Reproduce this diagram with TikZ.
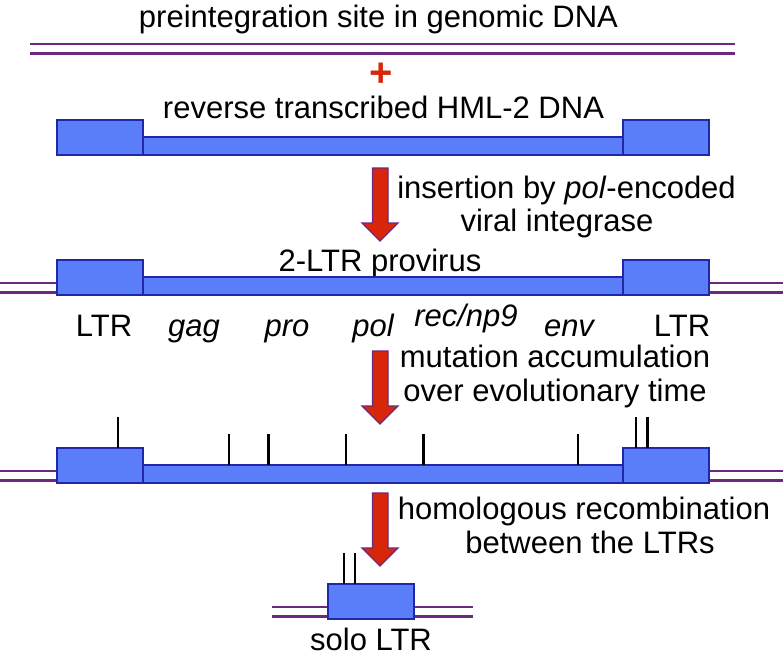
\documentclass[tikz,border=0pt]{standalone}
\usepackage{fontspec}
\setmainfont{Liberation Sans}
\usetikzlibrary{positioning}

\definecolor{ltrblue}{RGB}{90,125,250}
\definecolor{ltredge}{RGB}{32,40,165}
\definecolor{dnapurple}{RGB}{110,40,125}
\definecolor{arrowred}{RGB}{215,38,10}

\tikzset{
  lbl/.style={inner sep=0pt, anchor=base, font=\fontsize{31}{34}\selectfont},
  gene/.style={lbl, font=\fontsize{31}{34}\selectfont\itshape},
  elem/.style={draw=ltredge, fill=ltrblue, line width=1.4pt},
  strand/.style={draw=dnapurple, line width=2.6pt},
  mut/.style={draw=black, line width=2.2pt},
  bigarrow/.style={fill=arrowred, draw=dnapurple, line width=1.3pt, line join=miter}
}

% provirus drawn with its top edge at y=#1
\newcommand{\provirus}[1]{%
  \draw[elem](143,#1+17)rectangle(623,#1+35);
  \draw[elem](57,#1)rectangle(143,#1+35);
  \draw[elem](623,#1)rectangle(709,#1+35);
}
% flanking genomic DNA from #1 to #2 at y=#3
\newcommand{\flank}[3]{%
  \draw[strand](#1,#3)--(#2,#3);
  \draw[strand](#1,#3+9.5)--(#2,#3+9.5);
}
% block arrow with its top at y=#1
\newcommand{\steparrow}[1]{%
  \draw[bigarrow](372.5,#1)--(388,#1)--(388,#1+55)--(398,#1+55)
    --(380,#1+73)--(362,#1+55)--(372.5,#1+55)--cycle;
}

\begin{document}
\begin{tikzpicture}[x=1pt, y=-1pt]
  \useasboundingbox(0,0)rectangle(783,659);

  % step 1: target site and HML-2 DNA
  \node[lbl](site)at(378.5,27){preintegration site in genomic DNA};
  \flank{30}{735}{44}
  \node[inner sep=0pt, anchor=base, text height=24pt, text depth=0pt, text=arrowred,
    font=\fontsize{40}{40}\selectfont\bfseries](plus)at(381,86){+};
  \node[lbl](rtdna)at(383.5,118){reverse transcribed HML-2 DNA};
  \provirus{120}

  % step 2: integration
  \steparrow{168}
  \node[lbl](integ)at(566.5,198){insertion by \textit{pol}-encoded};
  \node[lbl](integb)at(557,231){viral integrase};
  \node[lbl](prov)at(380,271){2-LTR provirus};
  \flank{0}{57}{283}
  \flank{709}{783}{283}
  \provirus{260}
  \node[lbl](ltrL)at(104,336){LTR};
  \node[gene](gag)at(194,336){gag};
  \node[gene](pro)at(287,336){pro};
  \node[gene](pol)at(373,336){pol};
  \node[gene](rec)at(466,326){rec/np9};
  \node[gene](env)at(569,336){env};
  \node[lbl](ltrR)at(682,336){LTR};

  % step 3: mutations
  \steparrow{351}
  \node[lbl](mutate)at(555,367){mutation accumulation};
  \node[lbl](mutateb)at(555,401){over evolutionary time};
  \flank{0}{57}{471}
  \flank{709}{783}{471}
  \provirus{448}
  \foreach \x in {118,636,647.5}
    \draw[mut](\x,448)--(\x,417);
  \foreach \x in {229,268.5,346,423.5,578}
    \draw[mut](\x,465)--(\x,434);

  % step 4: recombination
  \steparrow{493}
  \node[lbl](recomb)at(584,519){homologous recombination};
  \node[lbl](recombb)at(590,553){between the LTRs};
  \flank{272}{473}{607}
  \draw[elem](328,584)rectangle(414,619);
  \foreach \x in {344,355}
    \draw[mut](\x,584)--(\x,553);
  \node[lbl](solo)at(371,650){solo LTR};
\end{tikzpicture}
\end{document}
